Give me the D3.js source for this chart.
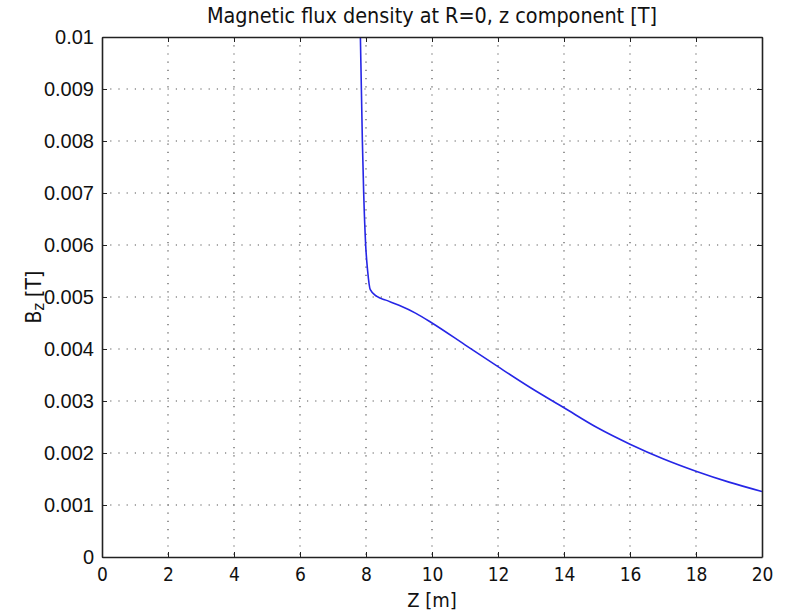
<!DOCTYPE html>
<html>
<head>
<meta charset="utf-8">
<script src="https://d3js.org/d3.v7.min.js"></script>
<style>
body{margin:0;background:#fff;}
svg{display:block;}
.grid line{stroke:#555;stroke-dasharray:1.2,7;stroke-width:1.2;}
</style>
</head>
<body>
<script>
// Z [m] and Bz [T]
var zVals  = [7.83, 7.86, 7.89, 7.93, 7.99, 8.05, 8.13, 8.33, 8.6, 9.0, 9.5, 10, 11, 12, 13, 14, 15, 16, 17, 18, 19, 20];
var bzVals = [0.0100, 0.0090, 0.0080, 0.0070, 0.0060, 0.0055, 0.00514, 0.00501, 0.00494, 0.00484, 0.00469, 0.0045, 0.00408, 0.00366, 0.00325, 0.00287, 0.00249, 0.00217, 0.00189, 0.00165, 0.00144, 0.00126];
var xTicks = [0, 2, 4, 6, 8, 10, 12, 14, 16, 18, 20];
var yTicks = [0, 0.001, 0.002, 0.003, 0.004, 0.005, 0.006, 0.007, 0.008, 0.009, 0.01];
var yTickLabels = ["0", "0.001", "0.002", "0.003", "0.004", "0.005", "0.006", "0.007", "0.008", "0.009", "0.01"];

var W = 787, H = 613;
var margin = {top: 37, right: 25, bottom: 56, left: 102};
var width = W - margin.left - margin.right,   // 660
    height = H - margin.top - margin.bottom;  // 520

var svg = d3.select("body").append("svg")
    .attr("width", W).attr("height", H);

var g = svg.append("g")
    .attr("transform", "translate(" + margin.left + "," + margin.top + ")");

var x = d3.scaleLinear().domain([0, 20]).range([0, width]);
var y = d3.scaleLinear().domain([0, 0.01]).range([height, 0]);

// dotted grid
var grid = g.append("g").attr("class", "grid");
grid.selectAll(".gx").data(xTicks.slice(1, -1)).enter().append("line")
    .attr("x1", d => x(d)).attr("x2", d => x(d))
    .attr("y1", 0).attr("y2", height);
grid.selectAll(".gy").data(yTicks.slice(1, -1)).enter().append("line")
    .attr("x1", 0).attr("x2", width)
    .attr("y1", d => y(d)).attr("y2", d => y(d));

// curve
var line = d3.line().x((d, i) => x(zVals[i])).y(d => y(d)).curve(d3.curveMonotoneX);
g.append("clipPath").attr("id", "clip").append("rect")
    .attr("width", width).attr("height", height);
g.append("path")
    .datum(bzVals)
    .attr("clip-path", "url(#clip)")
    .attr("fill", "none")
    .attr("stroke", "#2626e6")
    .attr("stroke-width", 1.6)
    .attr("d", line);

// axes with inward ticks
var fontY = "'Liberation Sans', Arial, sans-serif";
var fontX = "'Liberation Sans Narrow', 'DejaVu Sans Condensed', 'Liberation Sans', sans-serif";

var xAxis = g.append("g").attr("transform", "translate(0," + height + ")")
    .call(d3.axisBottom(x).tickValues(xTicks).tickSizeInner(-5).tickSizeOuter(0).tickPadding(11));
var yAxis = g.append("g")
    .call(d3.axisLeft(y).tickValues(yTicks).tickFormat((d, i) => yTickLabels[i]).tickSizeInner(-5).tickSizeOuter(0).tickPadding(8));
var xTop = g.append("g")
    .call(d3.axisTop(x).tickValues(xTicks).tickSizeInner(-5).tickSizeOuter(0).tickFormat(""));
var yRight = g.append("g").attr("transform", "translate(" + width + ",0)")
    .call(d3.axisRight(y).tickValues(yTicks).tickSizeInner(-5).tickSizeOuter(0).tickFormat(""));

[xAxis, yAxis, xTop, yRight].forEach(function(a) {
    a.select(".domain").attr("stroke", "#222").attr("stroke-width", 1.6);
    a.selectAll(".tick line").attr("stroke", "#222");
});
xAxis.selectAll("text").attr("font-family", fontX).attr("font-size", 19).attr("fill", "#111");
yAxis.selectAll("text").attr("font-family", fontY).attr("font-size", 20).attr("fill", "#111");

// title and axis labels
svg.append("text")
    .attr("x", margin.left + width / 2).attr("y", 23)
    .attr("text-anchor", "middle")
    .attr("font-family", fontX).attr("font-size", 21.4).attr("fill", "#111")
    .text("Magnetic flux density at R=0, z component [T]");

svg.append("text")
    .attr("x", margin.left + width / 2).attr("y", 607)
    .attr("text-anchor", "middle")
    .attr("font-family", fontX).attr("font-size", 20).attr("fill", "#111")
    .text("Z [m]");

var yl = svg.append("text")
    .attr("transform", "translate(41," + (margin.top + height / 2) + ") rotate(-90)")
    .attr("text-anchor", "middle")
    .attr("font-family", fontX).attr("font-size", 21).attr("fill", "#111");
yl.append("tspan").text("B");
yl.append("tspan").attr("font-size", 16).attr("dy", 3).text("z");
yl.append("tspan").attr("dy", -3).text(" [T]");
</script>
</body>
</html>
